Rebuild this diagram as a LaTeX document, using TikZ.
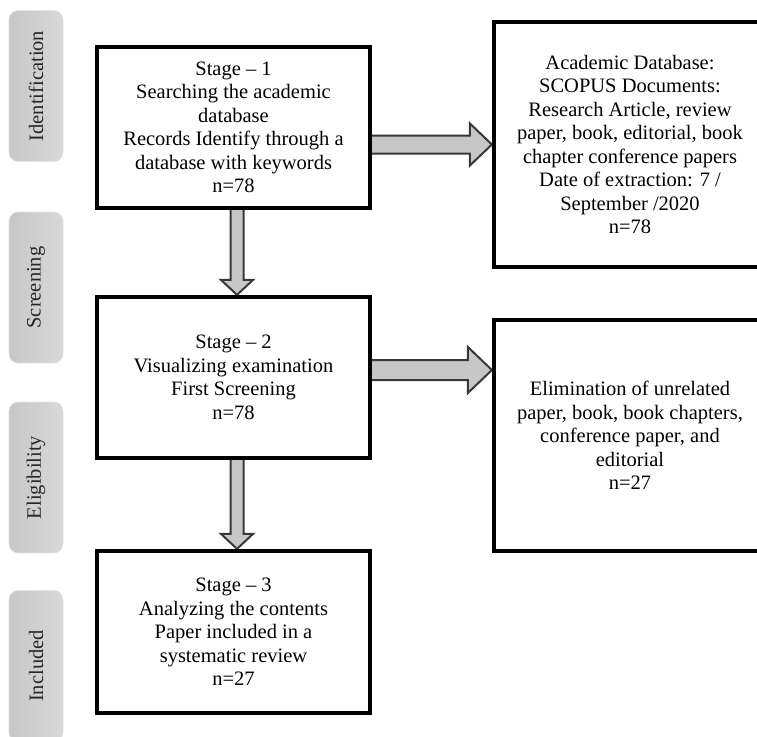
\documentclass[tikz,border=0pt]{standalone}
\usepackage{fontspec}
\setmainfont{Liberation Serif}
\usetikzlibrary{calc,backgrounds}

\colorlet{phaselight}{black!15}
\colorlet{phasedark}{black!22}
\colorlet{arrowfill}{black!22}
\colorlet{arrowline}{black!78}

\tikzset{
  % grey tabs down the left margin
  phase/.style={rounded corners=9pt, draw=black!10, line width=0.6pt,
    left color=phasedark, right color=phaselight, rotate=90,
    minimum width=151pt, minimum height=54pt, inner sep=0pt,
    font=\fontsize{20.5}{23.5}\selectfont, text=black!85},
  stagebox/.style={draw, line width=4.2pt, fill=white, minimum width=273pt,
    inner sep=0pt, align=center, font=\fontsize{20.5}{23.5}\selectfont},
  blockarrow/.style={draw=arrowline, fill=arrowfill, line width=2pt,
    line join=miter},
}

\begin{document}
\begin{tikzpicture}[x=1pt, y=-1pt]
  \useasboundingbox (0,0) rectangle (757,736);

  % phases
  \node[phase] (idf) at (36,86)    {Identification};
  \node[phase] (scr) at (36,287.5) {Screening};
  \node[phase] (elg) at (36,477.5) {Eligibility};
  \node[phase] (inc) at (36,666)   {Included};

  % stages, left column
  \node[stagebox, minimum height=161pt] (s1) at (233.5,127.5)
    {Stage -- 1\\Searching the academic\\database\\Records Identify through a\\database with keywords\\n=78};
  \node[stagebox, minimum height=161pt] (s2) at (233.5,377.5)
    {Stage -- 2\\Visualizing examination\\First Screening\\n=78};
  \node[stagebox, minimum height=162pt] (s3) at (233.5,632)
    {Stage -- 3\\Analyzing the contents\\Paper included in a\\systematic review\\n=27};

  % side boxes, right column (cut by the page edge)
  \node[stagebox, minimum width=272pt, minimum height=245pt] (db) at (630,144.5)
    {Academic Database:\\SCOPUS Documents:\\Research Article, review\\paper, book, editorial, book\\chapter conference papers\\Date of extraction: 7 /\\September /2020\\n=78};
  \node[stagebox, minimum width=272pt, minimum height=231pt] (el) at (630,435.5)
    {Elimination of unrelated\\paper, book, book chapters,\\conference paper, and\\editorial\\n=27};

  \begin{scope}[on background layer]
    % down arrows between the stages
    \foreach \a/\b in {s1/s2, s2/s3} {
      \coordinate (d) at ($(\a.south)+(3.5,-4)$);
      \coordinate (t) at (\b.north -| d);
      \draw[blockarrow] ($(d)+(-6.5,0)$) -- ($(t)+(-6.5,-15)$) -- ($(t)+(-16,-15)$)
        -- (t) -- ($(t)+(16,-15)$) -- ($(t)+(6.5,-15)$) -- ($(d)+(6.5,0)$) -- cycle;
    }
    % stage 1 -> database
    \coordinate (r1) at ($(s1.east |- db.west)+(-4,0)$);
    \draw[blockarrow] ($(r1)+(0,-9)$) -- ($(db.west)+(-22,-9)$) -- ($(db.west)+(-22,-21)$)
      -- (db.west) -- ($(db.west)+(-22,21)$) -- ($(db.west)+(-22,9)$) -- ($(r1)+(0,9)$) -- cycle;
    % stage 2 -> elimination
    \coordinate (r2) at ($(s2.east)+(-4,-7.5)$);
    \coordinate (t2) at (el.west |- r2);
    \draw[blockarrow] ($(r2)+(0,-10)$) -- ($(t2)+(-24,-10)$) -- ($(t2)+(-24,-23)$)
      -- (t2) -- ($(t2)+(-24,23)$) -- ($(t2)+(-24,10)$) -- ($(r2)+(0,10)$) -- cycle;
  \end{scope}
\end{tikzpicture}
\end{document}
